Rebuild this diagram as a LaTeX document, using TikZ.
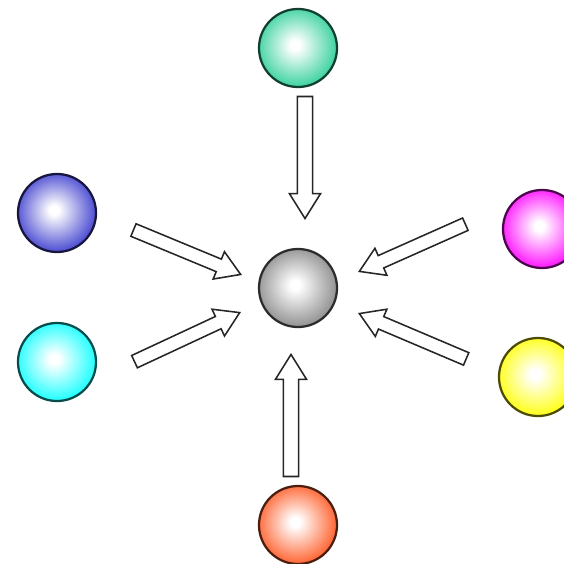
\documentclass[tikz,border=0pt]{standalone}
\usepackage{xcolor}
\usepackage{tikz}
\usetikzlibrary{shapes.arrows}

\definecolor{ballgreen}{RGB}{60,210,160}
\definecolor{ballblue}{RGB}{75,75,210}
\definecolor{ballmagenta}{RGB}{255,20,255}
\definecolor{ballcyan}{RGB}{30,255,255}
\definecolor{ballyellow}{RGB}{255,255,20}
\definecolor{ballgray}{RGB}{145,145,145}
\definecolor{ballorange}{RGB}{255,100,50}
\colorlet{ballc}{ballgray}

\pgfdeclareradialshading[ballc]{glassball}{\pgfpoint{-2bp}{2bp}}{color(0bp)=(white); color(3bp)=(white); color(26bp)=(ballc); color(50bp)=(ballc)}

\tikzset{
  ballcol/.code={\colorlet{ballc}{#1}},
  ball/.style={circle, minimum size=1.95cm, inner sep=0pt, line width=1.6pt, draw=ballc!30!black, shading=glassball},
  bigarrow/.style={single arrow, draw=black!85, line width=1.1pt, fill=white, inner xsep=0pt, inner ysep=0.17cm, minimum height=3.05cm, single arrow head extend=0.2cm, single arrow tip angle=64, anchor=tip},
  slantarrow/.style={bigarrow, minimum height=2.9cm, inner ysep=0.15cm}
}

\begin{document}
\begin{tikzpicture}[x=0.025cm, y=-0.025cm]
  \useasboundingbox (0,0) rectangle (564,564);
  \clip (0,0) rectangle (564,564);

  % the balls
  \foreach \nm/\x/\y/\c in {grn/298/48/ballgreen, blu/57/213/ballblue, mag/542/229/ballmagenta,
                            cya/57/362/ballcyan, yel/538/377/ballyellow, gry/298/288/ballgray,
                            org/298/525/ballorange} {
      \node[ballcol=\c, ball] (\nm) at (\x,\y) {};
  }

  % block arrows towards the middle (placed by their tips)
  \node[bigarrow, rotate=-90] (arN) at (305,220) {};
  \node[bigarrow, rotate=90] (arS) at (291,353) {};
  \node[slantarrow, rotate=-22.5] (arNW) at (242,275) {};
  \node[slantarrow, rotate=25] (arSW) at (241,312) {};
  \node[slantarrow, rotate=204] (arNE) at (358,272) {};
  \node[slantarrow, rotate=157] (arSE) at (358,313) {};
\end{tikzpicture}
\end{document}
